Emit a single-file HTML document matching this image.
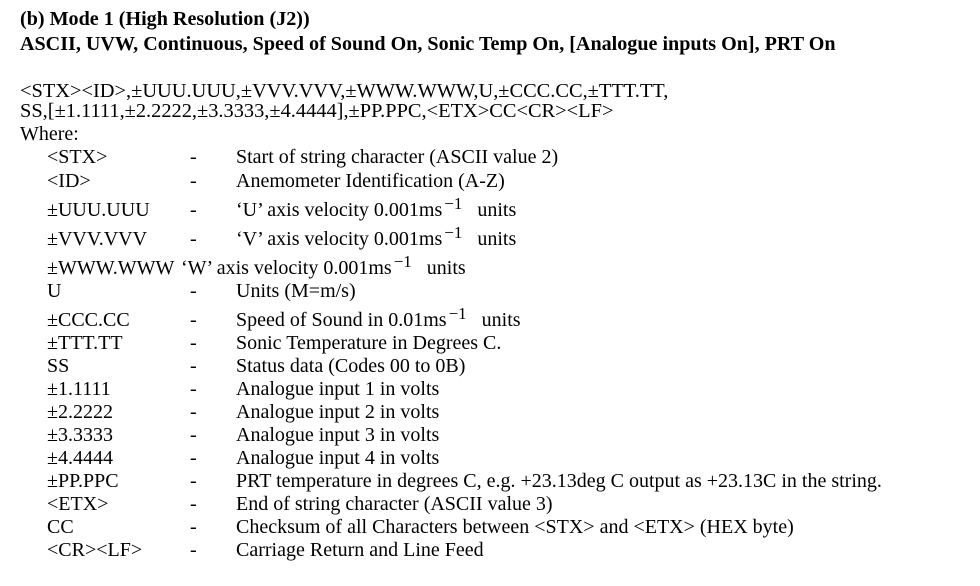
<!DOCTYPE html>
<html><head><meta charset="utf-8"><style>
body{margin:0;background:#fff;width:980px;height:586px;overflow:hidden;position:relative;font-family:"Liberation Serif","Times New Roman","DejaVu Serif",serif;color:#000}
.l{position:absolute;font-size:20px;line-height:22px;white-space:nowrap}
.b{font-weight:bold;font-size:20.1px}
.s{font-size:20.4px}
sup{font-size:17px;vertical-align:7px;line-height:0;margin:0 10px 0 2px}
</style></head><body>
<div class="l b" style="left:20px;top:8px">(b) Mode 1 (High Resolution (J2))</div>
<div class="l b" style="left:20px;top:33px">ASCII, UVW, Continuous, Speed of Sound On, Sonic Temp On, [Analogue inputs On], PRT On</div>
<div class="l s" style="left:20px;top:80px">&lt;STX&gt;&lt;ID&gt;,±UUU.UUU,±VVV.VVV,±WWW.WWW,U,±CCC.CC,±TTT.TT,</div>
<div class="l s" style="left:20px;top:100px">SS,[±1.1111,±2.2222,±3.3333,±4.4444],±PP.PPC,&lt;ETX&gt;CC&lt;CR&gt;&lt;LF&gt;</div>
<div class="l" style="left:20px;top:123px">Where:</div>
<div id="rows"></div>
<script>
var rows=[
[157,"&lt;STX&gt;","Start of string character (ASCII value 2)"],
[181,"&lt;ID&gt;","Anemometer Identification (A-Z)"],
[210,"±UUU.UUU","‘U’ axis velocity 0.001ms<sup>−1</sup> units"],
[239,"±VVV.VVV","‘V’ axis velocity 0.001ms<sup>−1</sup> units"],
[268,"±WWW.WWW",null],
[291,"U","Units (M=m/s)"],
[320,"±CCC.CC","Speed of Sound in 0.01ms<sup>−1</sup> units"],
[343,"±TTT.TT","Sonic Temperature in Degrees C."],
[366,"SS","Status data (Codes 00 to 0B)"],
[389,"±1.1111","Analogue input 1 in volts"],
[412,"±2.2222","Analogue input 2 in volts"],
[435,"±3.3333","Analogue input 3 in volts"],
[458,"±4.4444","Analogue input 4 in volts"],
[481,"±PP.PPC","PRT temperature in degrees C, e.g. +23.13deg C output as +23.13C in the string."],
[504,"&lt;ETX&gt;","End of string character (ASCII value 3)"],
[527,"CC","Checksum of all Characters between &lt;STX&gt; and &lt;ETX&gt; (HEX byte)"],
[550,"&lt;CR&gt;&lt;LF&gt;","Carriage Return and Line Feed"]];
var c=document.getElementById('rows');
rows.forEach(function(r){
 var t=r[0]-11;
 var a=document.createElement('div');a.className='l';a.style.left='47px';a.style.top=t+'px';a.innerHTML=r[1];
 
 
 c.appendChild(a);
 if(r[2]===null){
  var w=document.createElement('div');w.className='l';w.style.left='181px';w.style.top=t+'px';w.innerHTML="‘W’ axis velocity 0.001ms<sup>−1</sup> units";
  
  
  c.appendChild(w);return;
 }
 var d=document.createElement('div');d.className='l';d.style.left='190px';d.style.top=t+'px';d.textContent='-';
 
 
 c.appendChild(d);
 var e=document.createElement('div');e.className='l';e.style.left='236px';e.style.top=t+'px';e.innerHTML=r[2];
 
 
 c.appendChild(e);
});
</script>
</body></html>
